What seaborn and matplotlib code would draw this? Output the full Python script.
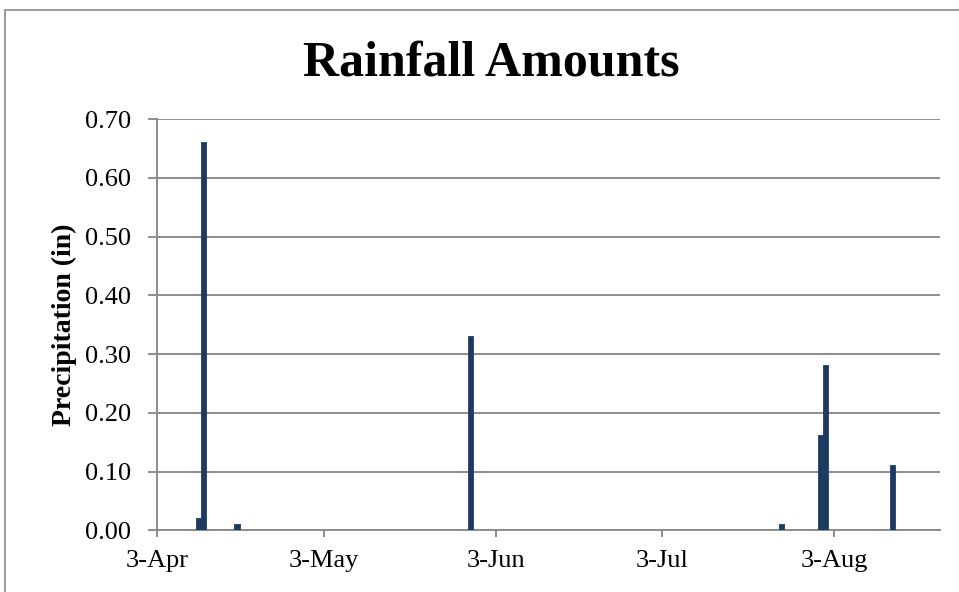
import pandas as pd
import numpy as np
import matplotlib
matplotlib.use('Agg')
import matplotlib.pyplot as plt
import matplotlib.dates as mdates
from matplotlib.patches import Rectangle
import seaborn as sns

# --- data ---
rain_dates = ["2013-04-10", "2013-04-11", "2013-04-17", "2013-05-29",
              "2013-07-24", "2013-07-31", "2013-08-01", "2013-08-13"]
rain_in = [0.02, 0.66, 0.01, 0.33, 0.01, 0.16, 0.28, 0.11]

tick_dates = ["2013-04-03", "2013-05-03", "2013-06-03", "2013-07-03", "2013-08-03"]
tick_labels = ["3-Apr", "3-May", "3-Jun", "3-Jul", "3-Aug"]
y_ticks = [0.0, 0.1, 0.2, 0.3, 0.4, 0.5, 0.6, 0.7]

sns.set_style("white")
plt.rcParams['font.family'] = ['Liberation Serif', 'DejaVu Serif']
plt.rcParams['text.color'] = 'black'
plt.rcParams['xtick.color'] = 'black'
plt.rcParams['ytick.color'] = 'black'
plt.rcParams['axes.labelcolor'] = 'black'

# Excel date axis: each day sits in the middle of its slot
day_num = mdates.date2num(pd.to_datetime(rain_dates)) + 0.5
df = pd.DataFrame({"day": day_num, "rain": rain_in})
tick_pos = mdates.date2num(pd.to_datetime(tick_dates))

fig = plt.figure(figsize=(9.59, 5.92), dpi=100)
ax = fig.add_axes([0.1637, 0.1039, 0.8165, 0.695])

sns.barplot(data=df, x="day", y="rain", native_scale=True, width=0.75,
            color="#1d3a62", saturation=1, errorbar=None, ax=ax, zorder=3,
            edgecolor="#1d3a62", linewidth=1.3)

ax.set_xlim(tick_pos[0], tick_pos[0] + 141)
ax.set_ylim(0, 0.70)
ax.set_xticks(tick_pos)
ax.set_xticklabels(tick_labels, fontsize=19)
ax.set_yticks(y_ticks)
ax.set_yticklabels([f"{v:.2f}" for v in y_ticks], fontsize=19)

ax.yaxis.grid(True, color="#8c8c8c", linewidth=1.4, zorder=0)
ax.set_axisbelow(True)
for s in ["top", "right"]:
    ax.spines[s].set_visible(False)
for s in ["left", "bottom"]:
    ax.spines[s].set_color("#8c8c8c")
    ax.spines[s].set_linewidth(1.4)
ax.tick_params(axis="both", direction="out", width=1.4, color="#8c8c8c",
               left=True, bottom=True)
ax.tick_params(axis="y", length=6.5, pad=12)
ax.tick_params(axis="x", length=5, pad=9)

ax.set_xlabel("")
ax.set_ylabel("Precipitation (in)", fontsize=20, fontweight="bold", labelpad=6)

fig.text(0.512, 0.893, "Rainfall Amounts", ha="center", va="center",
         fontsize=36, fontweight="bold")

# light chart-area border like the Excel chart frame
fig.add_artist(Rectangle((5 / 959, -0.05), 1.1, 1.05 - 10 / 592,
                         transform=fig.transFigure, fill=False,
                         edgecolor="#9a9a9a", linewidth=1.4))

plt.savefig("out.png", dpi=100)
plt.close()
